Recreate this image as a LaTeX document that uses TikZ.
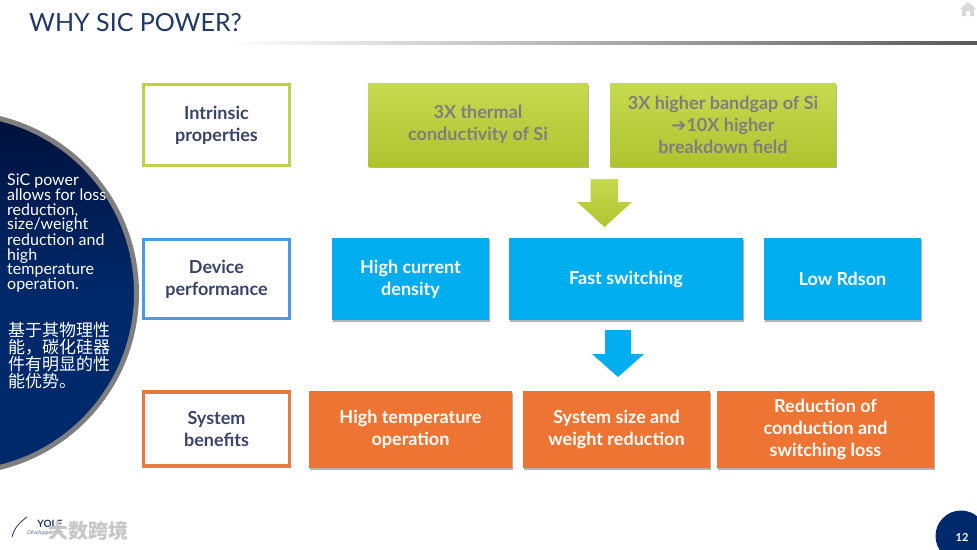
\documentclass[tikz,border=0pt]{standalone}
\usepackage{fontspec}
\setmainfont{Lato}
\newfontfamily\cjkfont{Noto Sans CJK SC}
\newfontfamily\symfont{DejaVu Sans}
\usetikzlibrary{shadows,fadings}
\definecolor{navy}{HTML}{1F3864}
\definecolor{deepnavy}{HTML}{00296B}
\definecolor{labelink}{HTML}{3A4468}
\definecolor{greenT}{HTML}{C6DA50}
\definecolor{greenB}{HTML}{AEC42E}
\definecolor{greenline}{HTML}{BDD24A}
\definecolor{bluefill}{HTML}{00AEEF}
\definecolor{blueline}{HTML}{4A9BE8}
\definecolor{orangefill}{HTML}{ED7433}
\definecolor{orangeline}{HTML}{E57B3F}
\definecolor{greytext}{HTML}{7F7F7F}
\tikzset{
  softshadow/.style={drop shadow={shadow xshift=0.6pt,shadow yshift=-1.6pt,fill=black,opacity=.3}},
  tagbox/.style={draw,line width=3.6pt,fill=white,inner sep=0pt,align=center,text=labelink,
    font=\bfseries\fontsize{18}{22}\selectfont,minimum width=146pt},
  greenbox/.style={top color=greenT,bottom color=greenB,inner sep=0pt,align=center,text=greytext,
    font=\bfseries\fontsize{18}{22}\selectfont,softshadow},
  bluebox/.style={fill=bluefill,inner sep=0pt,align=center,text=white,
    font=\bfseries\fontsize{18}{22}\selectfont,softshadow,minimum height=82pt},
  orangebox/.style={fill=orangefill,inner sep=0pt,align=center,text=white,
    font=\bfseries\fontsize{18}{22}\selectfont,softshadow,minimum height=77pt},
  circletext/.style={inner sep=0pt,align=left,anchor=north west,text=white},
}
\begin{document}
\begin{tikzpicture}[x=1pt,y=-1pt]
\clip (0,0) rectangle (977,549);
\fill[white] (0,0) rectangle (977,549);
% title and rule
\node[anchor=west,inner sep=0pt,text=navy,font=\fontsize{25}{28}\selectfont] (title) at (29,23) {WHY SIC POWER?};
\shade[left color=white,right color=black!65] (230,41.5) rectangle (977,44);
% home icon
\fill[black!15] (968,2) -- (976,9) -- (974,9) -- (974,16) -- (970,16) -- (970,11) -- (966,11) -- (966,16) -- (962,16) -- (962,9) -- (960,9) -- cycle;
% left disc
\shade[top color=black!90!blue!60!deepnavy,bottom color=deepnavy,middle color=deepnavy,draw=greytext,line width=5pt] (-43,293) circle (179.5);
\node[circletext,font=\fontsize{16}{14.5}\selectfont] (disc-en) at (7,173.5) {SiC power\\allows for loss\\reduction,\\size/weight\\reduction and\\high\\temperature\\operation.};
\node[circletext,font=\cjkfont\fontsize{17}{15}\selectfont] (disc-zh) at (8,322) {基于其物理性\\能，碳化硅器\\件有明显的性\\能优势。};
% row labels
\node[tagbox,draw=greenline,minimum height=81pt,softshadow] (intrinsic) at (216.5,125) {Intrinsic\\properties};
\node[tagbox,draw=blueline,minimum height=79pt,softshadow] (device) at (216.5,279) {Device\\performance};
\node[tagbox,draw=orangeline,minimum height=74pt] (system) at (216.5,429) {System\\benefits};
% green row
\node[greenbox,minimum width=220pt,minimum height=83pt] (thermal) at (478,124.5) {3X thermal\\conductivity of Si};
\node[greenbox,minimum width=226pt,minimum height=83pt] (bandgap) at (723,124.5) {3X higher bandgap of Si\\{\symfont ➔}10X higher\\breakdown field};
% green arrow
\shade[top color=greenT,bottom color=greenB] (590.5,179) -- (618,179) -- (618,202) -- (632,202) -- (604.5,227) -- (577,202) -- (590.5,202) -- cycle;
% blue row
\node[bluebox,minimum width=157pt] (current) at (410.5,279) {High current\\density};
\node[bluebox,minimum width=234pt] (switching) at (626,279) {Fast switching};
\node[bluebox,minimum width=157pt] (rdson) at (842.5,279) {Low Rdson};
% blue arrow
\fill[bluefill] (605,330) -- (631,330) -- (631,354) -- (644,354) -- (618,377) -- (592,354) -- (605,354) -- cycle;
% orange row
\node[orangebox,minimum width=203pt] (hightemp) at (410.5,429.5) {High temperature\\operation};
\node[orangebox,minimum width=187pt] (size) at (616.5,429.5) {System size and\\weight reduction};
\node[orangebox,minimum width=217pt] (loss) at (825.5,429.5) {Reduction of\\conduction and\\switching loss};
% page number
\fill[deepnavy] (961,536) circle (25.5);
\node[inner sep=0pt,text=white,font=\bfseries\fontsize{11}{12}\selectfont] (page) at (962,537) {12};
% logo and watermark
\draw[navy,line width=.8pt] (12,537) .. controls (14,528) and (20,522) .. (27,517);
\node[inner sep=0pt,text=navy,font=\bfseries\fontsize{10}{10}\selectfont] (yole) at (50,524) {YOLE};
\node[inner sep=0pt,text=navy!70,font=\itshape\fontsize{5.5}{6}\selectfont] (dev) at (45,533) {Développement};
\node[inner sep=0pt,text=black!22,font=\cjkfont\bfseries\fontsize{20}{22}\selectfont] (mark) at (88,531) {大数跨境};
\end{tikzpicture}
\end{document}
